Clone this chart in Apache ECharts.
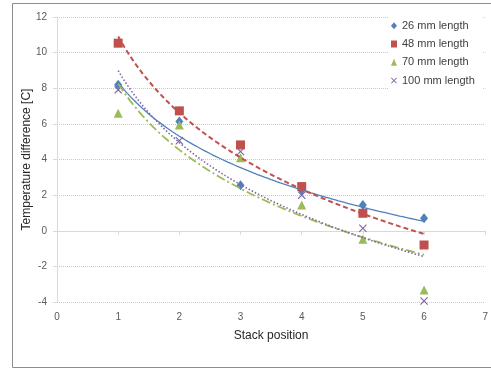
<!DOCTYPE html>
<html>
<head>
<meta charset="utf-8">
<script src="https://cdn.jsdelivr.net/npm/echarts@6/dist/echarts.min.js"></script>
<style>
  html, body { margin: 0; padding: 0; background: #fff; }
  #chart { width: 491px; height: 370px; }
</style>
</head>
<body>
<div id="chart"></div>
<script>
// Stack positions along the x axis
var positions = [1, 2, 3, 4, 5, 6];

// Measured temperature difference [C] per stack length
var len26 = [8.19, 6.13, 2.55, 2.29, 1.45, 0.70];
var len48 = [10.53, 6.73, 4.82, 2.48, 0.98, -0.80];
var len70 = [6.60, 5.94, 4.10, 1.45, -0.48, -3.33];
var len100 = [7.91, 5.05, 4.45, 2.00, 0.14, -3.94];

var seriesNames = ['26 mm length', '48 mm length', '70 mm length', '100 mm length'];
var yTicks = { min: -4, max: 12, interval: 2 };
var xTicks = { min: 0, max: 7, interval: 1 };

var colors = ['#4F81BD', '#C0504D', '#9BBB59', '#8064A2'];
var crossPath = 'path://M0,1 L1,0 L5,4 L9,0 L10,1 L6,5 L10,9 L9,10 L5,6 L1,10 L0,9 L4,5 Z';
var symbols = ['diamond', 'rect', 'triangle', crossPath];
var symbolSizes = [[8, 10], 9, 9, 8];
var lineTypes = ['solid', [5, 3], [9, 3, 2, 3], [1.5, 2]];
var lineWidths = [1.3, 2, 1.8, 1.6];

// Logarithmic least-squares trendline y = a + b ln(x)
function logFit(xs, ys) {
  var n = xs.length, lx = xs.map(Math.log);
  var mx = lx.reduce(function (s, v) { return s + v; }, 0) / n;
  var my = ys.reduce(function (s, v) { return s + v; }, 0) / n;
  var sxy = 0, sxx = 0;
  for (var i = 0; i < n; i++) {
    sxy += (lx[i] - mx) * (ys[i] - my);
    sxx += (lx[i] - mx) * (lx[i] - mx);
  }
  var b = sxy / sxx, a = my - b * mx;
  var pts = [];
  var x0 = xs[0], x1 = xs[n - 1];
  for (var k = 0; k <= 100; k++) {
    var x = x0 + (x1 - x0) * k / 100;
    pts.push([x, a + b * Math.log(x)]);
  }
  return pts;
}

var dataSets = [len26, len48, len70, len100];
var series = [];
dataSets.forEach(function (vals, i) {
  series.push({
    name: seriesNames[i],
    type: 'scatter',
    data: positions.map(function (p, j) { return [p, vals[j]]; }),
    symbol: symbols[i],
    symbolSize: symbolSizes[i],
    itemStyle: { color: colors[i], opacity: 1 },
    z: 3
  });
});
dataSets.forEach(function (vals, i) {
  series.push({
    name: seriesNames[i] + ' trend',
    type: 'line',
    data: logFit(positions, vals),
    showSymbol: false,
    smooth: false,
    silent: true,
    lineStyle: { color: colors[i], width: lineWidths[i], type: lineTypes[i] },
    z: 4
  });
});

var font = 'Liberation Sans, Arial, sans-serif';
var chart = echarts.init(document.getElementById('chart'));
chart.setOption({
  animation: false,
  backgroundColor: '#fff',
  textStyle: { fontFamily: font },
  graphic: [{
    type: 'rect',
    shape: { x: 12.5, y: 3.5, width: 490, height: 364 },
    style: { fill: 'none', stroke: '#8c8c8c', lineWidth: 1 },
    silent: true,
    z: -10
  }],
  grid: { left: 57, top: 17, right: 3.5, bottom: 68 },
  legend: {
    data: seriesNames,
    orient: 'vertical',
    left: 388,
    top: 13.7,
    padding: [5, 8, 5, 3],
    itemWidth: 6,
    itemHeight: 7,
    itemGap: 4.3,
    backgroundColor: '#fff',
    textStyle: { fontFamily: font, fontSize: 11, color: '#404040', lineHeight: 14 },
    z: 10
  },
  xAxis: {
    type: 'value',
    min: xTicks.min, max: xTicks.max, interval: xTicks.interval,
    name: 'Stack position',
    nameLocation: 'middle',
    nameGap: 28,
    nameMoveOverlap: false,
    nameTextStyle: { fontFamily: font, fontSize: 12, color: '#262626' },
    axisLine: { lineStyle: { color: '#d9d9d9', width: 1 } },
    axisTick: { show: true, length: 4, lineStyle: { color: '#d9d9d9' } },
    axisLabel: { fontFamily: font, fontSize: 10, color: '#595959', margin: 10 },
    splitLine: { show: false }
  },
  yAxis: {
    type: 'value',
    min: yTicks.min, max: yTicks.max, interval: yTicks.interval,
    name: 'Temperature difference [C]',
    nameLocation: 'middle',
    nameGap: 24,
    nameMoveOverlap: false,
    nameTextStyle: { fontFamily: font, fontSize: 12, color: '#262626' },
    axisLine: { show: true, lineStyle: { color: '#d9d9d9', width: 1 } },
    axisTick: { show: true, length: 4, lineStyle: { color: '#d9d9d9' } },
    axisLabel: { fontFamily: font, fontSize: 10, color: '#595959', margin: 10 },
    splitLine: { show: true, lineStyle: { color: '#c8c8c8', width: 1, type: [1, 1] } }
  },
  series: series
});
</script>
</body>
</html>
